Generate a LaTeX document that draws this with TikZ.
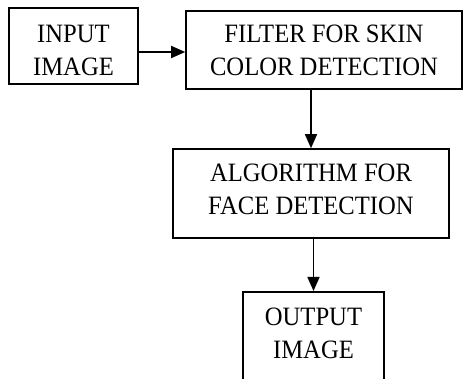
\documentclass[tikz,border=0pt]{standalone}
\usepackage{fontspec}
\setmainfont{Liberation Serif}[FakeStretch=0.93]
\usetikzlibrary{arrows.meta}
\begin{document}
\begin{tikzpicture}[x=1pt,y=-1pt,
  lbl/.style={align=center, font=\fontsize{26.5}{33}\selectfont, inner sep=0pt},
  box/.style={draw, line width=1.6pt, inner sep=0pt},
  flow/.style={line width=1.5pt, -{Triangle[length=14pt,width=12pt]}}]
\useasboundingbox (0,0) rectangle (463,379);
% processing stages (frames)
\node[box, minimum width=129pt, minimum height=76pt] (in) at (73.5,46) {};
\node[box, minimum width=276pt, minimum height=78pt] (filt) at (324,50) {};
\node[box, minimum width=276pt, minimum height=89pt] (alg) at (311,193.5) {};
\node[box, minimum width=141pt, minimum height=110pt, anchor=north] (out) at (313.5,291) {};
% stage captions
\node[lbl] (intxt) at ([yshift=-4pt]in.center) {INPUT\\IMAGE};
\node[lbl] (filttxt) at (filt.center) {FILTER FOR SKIN\\COLOR DETECTION};
\node[lbl] (algtxt) at ([yshift=4pt]alg.center) {ALGORITHM FOR\\FACE DETECTION};
\node[lbl, anchor=north] (outtxt) at ([yshift=-17pt]out.north) {OUTPUT\\IMAGE};
% connectors
\draw[flow] ([yshift=-6pt]in.east) coordinate (a1) -- (a1 -| filt.west);
\draw[flow] (filt.south -| alg.north) -- (alg.north);
\draw[flow] (alg.south -| out.north) -- (out.north);
\end{tikzpicture}
\end{document}
